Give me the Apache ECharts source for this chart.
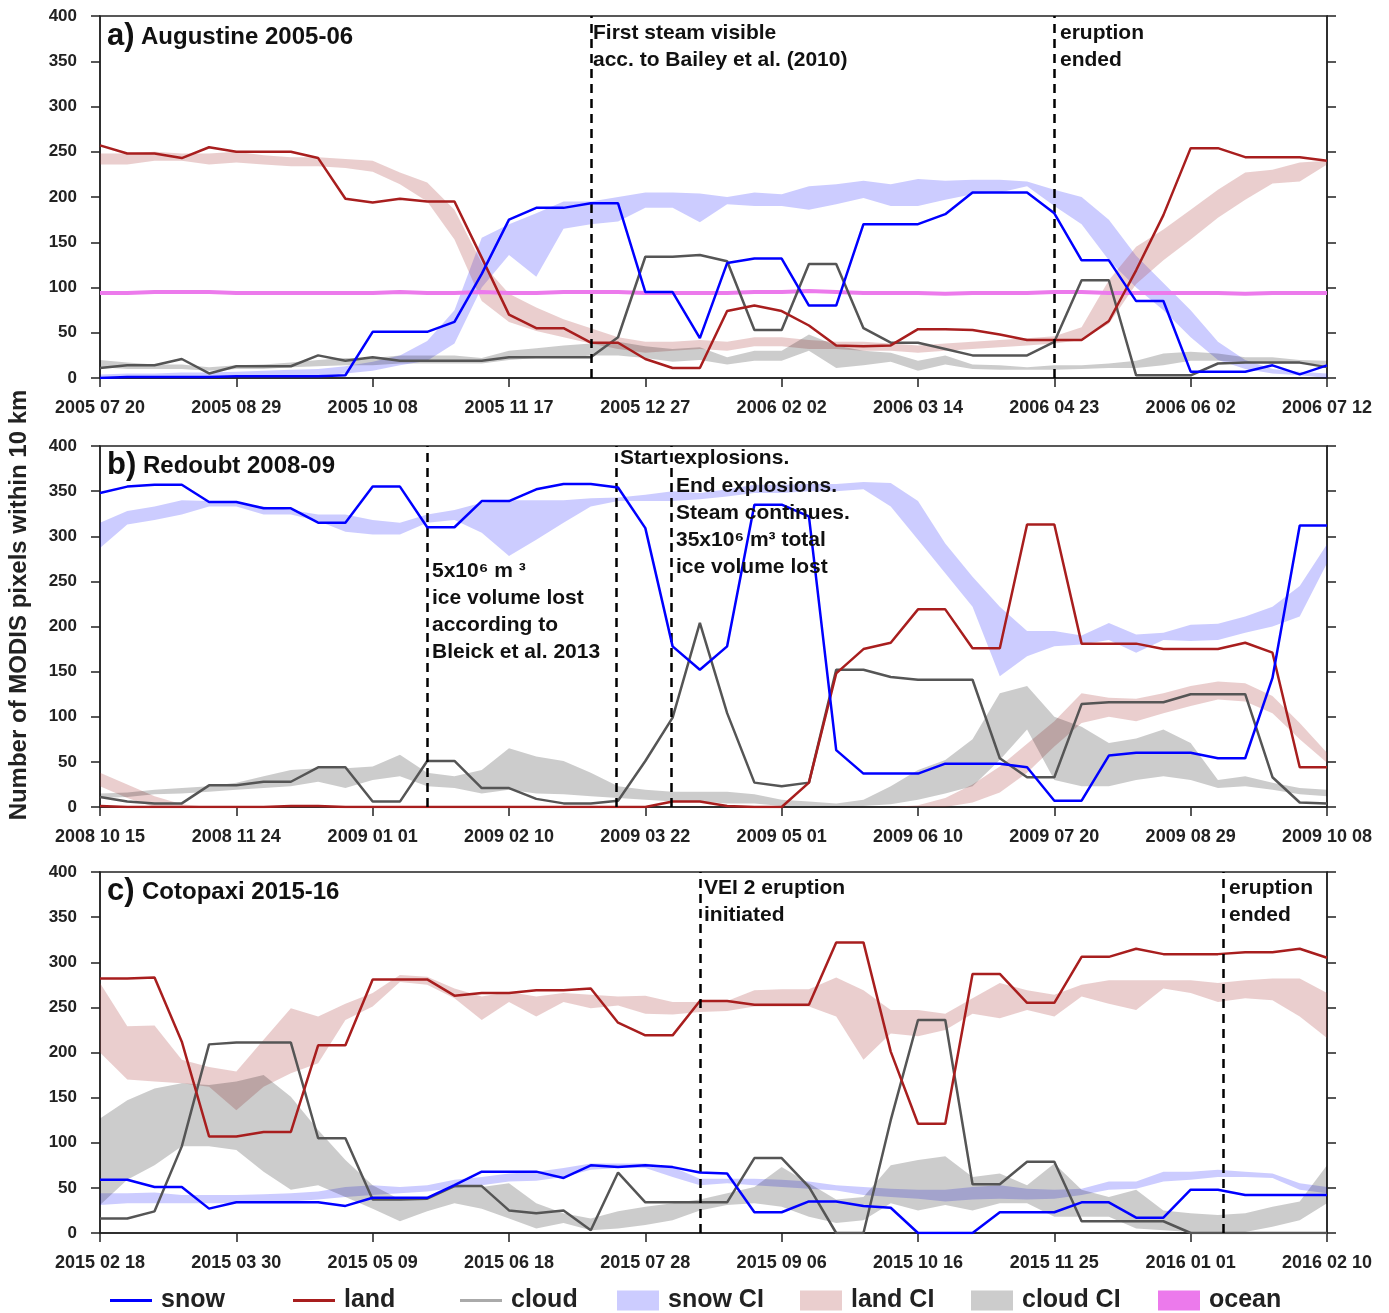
<!DOCTYPE html>
<html><head><meta charset="utf-8">
<script src="https://cdn.jsdelivr.net/npm/echarts@6/dist/echarts.min.js"></script>
<style>html,body{margin:0;padding:0;background:#fff}#c{width:1389px;height:1313px}</style>
</head><body><div id="c"></div>
<script>
// ---------- tick labels (every 5th 8-day MODIS composite) ----------
const ticksA = ['2005 07 20','2005 08 29','2005 10 08','2005 11 17','2005 12 27','2006 02 02','2006 03 14','2006 04 23','2006 06 02','2006 07 12'];
const ticksB = ['2008 10 15','2008 11 24','2009 01 01','2009 02 10','2009 03 22','2009 05 01','2009 06 10','2009 07 20','2009 08 29','2009 10 08'];
const ticksC = ['2015 02 18','2015 03 30','2015 05 09','2015 06 18','2015 07 28','2015 09 06','2015 10 16','2015 11 25','2016 01 01','2016 02 10'];

// ---------- panel a: Augustine 2005-06 ----------
const snowA  = [0,1,1,1,1,2,2,2,2,3,51,51,51,62,115,175,188,188,193,193,95,95,44,127,132,132,80,80,170,170,170,181,205,205,205,182,130,130,85,85,7,7,7,14,4,14];
const landA  = [257,248,248,243,255,250,250,250,243,198,194,198,195,195,133,70,55,55,39,39,21,11,11,74,80,74,58,36,35,36,54,54,53,48,42,42,42,63,119,180,254,254,244,244,244,240];
const cloudA = [11,14,14,21,5,13,13,13,25,19,23,19,19,19,19,23,23,23,23,45,134,134,136,129,53,53,126,126,55,39,39,32,25,25,25,40,108,108,3,3,3,16,17,17,17,12];
const oceanA = [94,94,95,95,95,94,94,94,94,94,94,95,94,94,95,94,94,95,95,95,94,94,94,94,95,95,96,95,94,94,94,93,94,94,94,95,95,94,94,94,94,94,93,94,94,94];
const snowLoA = [0,0,0,0,0,1,1,2,3,5,8,14,19,38,100,136,112,165,170,173,188,188,172,192,190,190,186,192,199,190,190,197,203,205,212,190,170,130,100,75,45,20,10,5,3,0];
const snowHiA = [4,5,5,6,6,7,8,9,10,13,18,25,41,75,155,170,182,195,195,200,205,205,204,200,205,203,212,214,218,214,220,218,219,219,217,208,200,175,135,105,75,40,20,10,7,5];
const landLoA = [236,236,240,240,236,238,236,234,234,232,228,214,195,153,85,62,52,45,38,32,28,30,32,30,35,35,32,32,30,30,28,30,32,34,36,38,42,60,104,130,153,177,197,215,217,236];
const landHiA = [248,248,250,248,248,250,246,244,244,242,240,227,216,186,127,93,78,65,55,45,40,40,42,40,45,45,42,40,40,38,36,38,40,42,44,46,56,108,145,164,186,208,227,230,238,240];
const cloudLoA = [12,10,10,10,8,10,10,12,13,14,14,16,16,16,16,20,22,22,25,25,22,18,20,15,19,19,30,11,14,18,8,15,10,9,9,9,10,11,11,14,19,19,18,16,16,14];
const cloudHiA = [20,17,15,15,12,14,15,17,20,22,22,25,25,25,22,30,33,36,38,40,35,32,34,23,30,30,48,36,30,28,19,25,15,14,12,14,14,16,19,27,29,27,23,23,20,19];
const eventsA = [18, 35];

// ---------- panel b: Redoubt 2008-09 ----------
const snowB  = [348,355,357,357,338,338,331,331,315,315,355,355,310,310,339,339,352,358,358,354,309,178,152,178,335,335,322,63,37,37,37,48,48,48,44,7,7,57,60,60,60,54,54,143,312,312];
const landB  = [1,0,0,0,0,0,0,1,1,0,0,0,0,0,0,0,0,0,0,0,0,6,6,1,0,0,27,148,175,182,219,219,176,176,313,313,181,181,181,175,175,175,182,171,44,44];
const cloudB = [11,6,4,4,24,24,28,28,44,44,6,6,51,51,21,21,9,4,4,7,51,99,204,104,27,23,27,152,152,144,141,141,141,54,33,33,114,116,116,116,125,125,125,33,5,4];
const snowLoB = [287,313,318,324,333,333,324,324,317,305,302,302,315,318,304,278,296,315,333,339,339,339,341,344,348,348,350,350,352,333,296,259,222,145,167,178,180,185,171,185,184,185,193,200,211,270];
const snowHiB = [315,328,333,340,339,337,333,329,324,324,318,315,324,329,337,340,340,340,342,343,346,350,348,352,357,357,358,358,360,359,339,292,255,222,195,195,190,204,191,193,202,203,211,222,245,291];
const landLoB = [23,10,0,0,0,0,0,0,0,0,0,0,0,0,0,0,0,0,0,0,0,0,0,0,0,0,0,0,0,0,0,0,5,16,38,67,93,100,95,104,112,119,117,104,75,49];
const landHiB = [38,25,12,3,0,0,0,0,0,0,0,0,0,0,0,0,0,0,0,0,0,0,0,0,0,0,0,0,0,0,2,10,25,45,70,95,126,121,120,126,134,139,137,123,93,60];
const cloudLoB = [10,11,14,15,17,19,21,23,28,21,30,34,23,21,15,19,15,14,12,10,8,6,6,4,4,1,1,0,1,3,8,15,23,52,86,30,23,23,30,34,30,21,23,19,14,12];
const cloudHiB = [15,16,19,21,23,27,34,41,43,43,45,58,38,34,41,65,56,51,38,23,19,17,17,17,14,8,6,4,8,23,41,52,75,126,134,100,89,71,76,86,71,30,34,27,21,19];
const eventsB = [12, 18.93, 20.94];

// ---------- panel c: Cotopaxi 2015-16 ----------
const snowC  = [59,59,51,51,27,34,34,34,34,30,39,39,39,53,68,68,68,61,75,73,75,73,67,66,23,23,35,35,30,28,0,0,0,23,23,23,34,34,17,17,48,48,42,42,42,42];
const landC  = [282,282,283,212,107,107,112,112,208,208,281,281,281,263,266,266,269,269,271,233,219,219,257,257,253,253,253,322,322,201,121,121,287,287,255,255,306,306,315,309,309,309,311,311,315,305];
const cloudC = [16,16,24,96,209,211,211,211,105,105,37,37,38,52,52,25,22,25,3,67,34,34,34,34,83,83,51,0,0,125,236,236,54,54,79,79,13,13,13,13,0,0,0,0,0,0];
const snowLoC = [31,33,33,33,33,33,34,35,37,40,42,44,46,50,53,57,58,62,70,72,72,62,53,55,53,51,49,47,42,40,38,35,37,38,37,38,42,48,49,57,59,62,62,61,48,44];
const snowHiC = [44,44,45,42,42,42,43,44,46,51,53,51,53,59,62,66,68,72,77,77,77,73,60,60,60,59,57,53,51,49,48,48,51,53,49,48,49,57,57,68,68,70,68,66,55,51];
const landLoC = [200,170,168,166,162,136,162,177,188,236,251,278,275,260,236,256,240,256,249,252,243,242,245,246,251,251,251,240,192,221,218,225,243,238,247,240,262,254,247,271,266,256,260,258,240,216];
const landHiC = [277,229,230,192,184,179,214,249,240,254,266,286,284,271,262,267,262,266,264,262,263,256,256,257,269,270,270,283,269,247,247,243,260,277,269,264,275,280,280,280,280,277,280,282,282,266];
const cloudLoC = [31,59,75,96,96,92,68,48,53,40,27,13,24,33,27,16,5,11,3,5,9,14,25,31,33,29,18,11,14,33,25,31,25,33,33,18,18,18,5,3,1,1,1,7,14,33];
const cloudHiC = [127,147,160,166,164,168,175,151,114,81,53,37,37,53,51,55,33,22,16,24,29,33,37,44,51,73,55,37,40,75,81,85,62,66,53,77,48,40,48,25,22,20,22,29,35,75];
const eventsC = [22, 41.2];

// ---------- styling ----------
const FONT = '"Liberation Sans", Arial, sans-serif';
const COL = {snow:'#0000ff', land:'#a81e1e', cloud:'#555555', ocean:'#ec7aec',
  snowCI:'rgba(0,0,255,0.2)', landCI:'rgba(170,60,60,0.25)', cloudCI:'rgba(0,0,0,0.2)'};
const LEG = {snowCI:'#ccccff', landCI:'#eacece', cloudCI:'#cccccc', ocean:'#ec7aec'};

const panels = [
  {top:16, h:362, ticks:ticksA, snow:snowA, land:landA, cloud:cloudA, ocean:oceanA,
   sCI:[snowLoA,snowHiA], lCI:[landLoA,landHiA], cCI:[cloudLoA,cloudHiA], ev:eventsA},
  {top:446, h:361, ticks:ticksB, snow:snowB, land:landB, cloud:cloudB, ocean:null,
   sCI:[snowLoB,snowHiB], lCI:[landLoB,landHiB], cCI:[cloudLoB,cloudHiB], ev:eventsB},
  {top:872, h:361, ticks:ticksC, snow:snowC, land:landC, cloud:cloudC, ocean:null,
   sCI:[snowLoC,snowHiC], lCI:[landLoC,landHiC], cCI:[cloudLoC,cloudHiC], ev:eventsC}
];

const pts = arr => arr.map((v,i) => [i, v]);
const grid = [], xAxis = [], yAxis = [], series = [];
const axisCol = '#222';

panels.forEach((p, g) => {
  grid.push({left:100, right:62, top:p.top, height:p.h, show:true, borderColor:axisCol, borderWidth:1.5, backgroundColor:'transparent'});
  xAxis.push({type:'value', gridIndex:g, min:0, max:45, interval:5,
    axisLine:{show:true, onZero:false, lineStyle:{color:axisCol, width:1.5}},
    axisTick:{show:true, inside:false, length:9, lineStyle:{color:axisCol, width:1.5}},
    axisLabel:{margin:21, fontSize:18, fontWeight:'bold', color:axisCol, fontFamily:FONT,
      formatter: v => { const k = v/5; return Number.isInteger(k) ? p.ticks[k] : ''; }},
    splitLine:{show:false}});
  yAxis.push({type:'value', gridIndex:g, min:0, max:400, interval:50, position:'left',
    axisLine:{show:true, lineStyle:{color:axisCol, width:1.5}},
    axisTick:{show:true, inside:false, length:9, lineStyle:{color:axisCol, width:1.5}},
    axisLabel:{margin:23, fontSize:17, fontWeight:'bold', color:axisCol, fontFamily:FONT},
    splitLine:{show:false}});
  yAxis.push({type:'value', gridIndex:g, min:0, max:400, interval:50, position:'right',
    axisLine:{show:true, lineStyle:{color:axisCol, width:1.5}},
    axisTick:{show:true, inside:false, length:9, lineStyle:{color:axisCol, width:1.5}},
    axisLabel:{show:false}, splitLine:{show:false}});

  const yi = g*2;
  const band = (name, lohi, color) => {
    const [lo, hi] = lohi;
    series.push({type:'custom', name:name, xAxisIndex:g, yAxisIndex:yi, silent:true, z:1,
      itemStyle:{color:color}, data:[[0, lo[0]]], encode:{x:0, y:1},
      renderItem:(params, api) => {
        const top = hi.map((v,i) => api.coord([i, v]));
        const bot = lo.map((v,i) => api.coord([i, v])).reverse();
        return {type:'polygon', shape:{points:top.concat(bot)}, style:{fill:color}};
      }});
  };
  band('snow CI', p.sCI, COL.snowCI);
  band('land CI', p.lCI, COL.landCI);
  band('cloud CI', p.cCI, COL.cloudCI);
  if (p.ocean) {
    series.push({type:'line', name:'ocean', xAxisIndex:g, yAxisIndex:yi, data:pts(p.ocean), symbol:'none',
      lineStyle:{color:COL.ocean, width:4}, itemStyle:{color:COL.ocean}, z:2});
  }
  series.push({type:'line', name:'cloud', xAxisIndex:g, yAxisIndex:yi, data:pts(p.cloud), symbol:'none',
    lineStyle:{color:COL.cloud, width:2.5}, itemStyle:{color:COL.cloud}, z:3,
    markLine:{silent:true, symbol:['none','none'], label:{show:false},
      lineStyle:{color:'#000', width:2.5, type:[9,6]},
      data:p.ev.map(x => ({xAxis:x}))}});
  series.push({type:'line', name:'land', xAxisIndex:g, yAxisIndex:yi, data:pts(p.land), symbol:'none',
    lineStyle:{color:COL.land, width:2.5}, itemStyle:{color:COL.land}, z:4});
  series.push({type:'line', name:'snow', xAxisIndex:g, yAxisIndex:yi, data:pts(p.snow), symbol:'none',
    lineStyle:{color:COL.snow, width:2.5}, itemStyle:{color:COL.snow}, z:5});
});

// ---------- legend ----------
const legText = {fontSize:25, fontWeight:'bold', color:'#222', fontFamily:FONT, padding:[0,0,0,4]};
const legItems = [
  {left:105, h:3, name:'snow', color:COL.snow},
  {left:288, h:3, name:'land', color:COL.land},
  {left:455, h:3, name:'cloud', color:'#aaaaaa'},
  {left:612, h:20, name:'snow CI', color:LEG.snowCI},
  {left:795, h:20, name:'land CI', color:LEG.landCI},
  {left:966, h:20, name:'cloud CI', color:LEG.cloudCI},
  {left:1153, h:20, name:'ocean', color:LEG.ocean}
];
const legend = legItems.map(it => ({left:it.left, top:1283, itemWidth:42, itemHeight:it.h, itemGap:0,
  selectedMode:false, textStyle:legText,
  data:[{name:it.name, icon:'rect', itemStyle:{color:it.color, borderWidth:0}}]}));

// ---------- text annotations ----------
const T = (text, x, y, size) => ({type:'text', x:x, y:y, z:100, silent:true,
  style:{text:text, font:'bold ' + (size||21) + 'px ' + FONT, fill:'#111',
    align:'left', verticalAlign:'middle', textAlign:'left', textVerticalAlign:'middle'}});
const graphic = [
  T('a)', 107, 36, 31), T('Augustine 2005-06', 141, 37, 24),
  T('b)', 107, 465, 31), T('Redoubt 2008-09', 143, 466, 24),
  T('c)', 107, 891, 31), T('Cotopaxi 2015-16', 142, 892, 24),
  T('First steam visible', 593, 33), T('acc. to Bailey et al. (2010)', 593, 60),
  T('eruption', 1060, 33), T('ended', 1060, 60),
  T('5x10\u2076 m \u00B3', 432, 571), T('ice volume lost', 432, 598), T('according to', 432, 625), T('Bleick et al. 2013', 432, 652),
  T('Start explosions.', 620, 458),
  T('End explosions.', 676, 486), T('Steam continues.', 676, 513), T('35x10\u2076 m\u00B3 total', 676, 540), T('ice volume lost', 676, 567),
  T('VEI 2 eruption', 704, 888), T('initiated', 704, 915),
  T('eruption', 1229, 888), T('ended', 1229, 915),
  {type:'text', x:19, y:605, rotation:Math.PI/2, z:100, silent:true,
   style:{text:'Number of MODIS pixels within 10 km', font:'bold 24px ' + FONT, fill:'#222',
     align:'center', verticalAlign:'middle', textAlign:'center', textVerticalAlign:'middle'}}
];

const chart = echarts.init(document.getElementById('c'), null, {renderer:'canvas'});
chart.setOption({animation:false, backgroundColor:'#ffffff', grid, xAxis, yAxis, series, legend, graphic});
</script>
</body></html>
